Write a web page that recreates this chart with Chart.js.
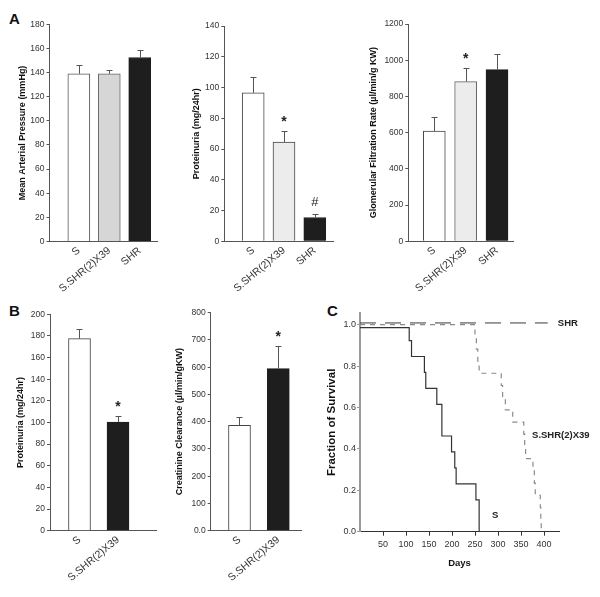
<!DOCTYPE html>
<html><head><meta charset="utf-8">
<script src="https://cdn.jsdelivr.net/npm/chart.js@4.4.1/dist/chart.umd.min.js"></script>
<style>
html,body{margin:0;padding:0;background:#fff;}
body{width:600px;height:597px;position:relative;overflow:hidden;font-family:"Liberation Sans",Arial,sans-serif;}
canvas{position:absolute;}
.lbl{position:absolute;font-weight:bold;font-size:15px;line-height:15px;color:#111;}
</style></head><body>
<div class="lbl" style="left:9px;top:11px">A</div>
<div class="lbl" style="left:9px;top:303px">B</div>
<div class="lbl" style="left:327px;top:303px">C</div>
<canvas id="b1"></canvas><canvas id="b2"></canvas><canvas id="c1"></canvas>
<canvas id="a1"></canvas><canvas id="a2"></canvas><canvas id="a3"></canvas>
<script>
// ---------- data ----------
const groupsA = ['S', 'S.SHR(2)X39', 'SHR'];
const mapMean = [139, 139, 152.5];
const mapErrTop = [146.5, 142, 158.5];
const mapTicks = [0, 20, 40, 60, 80, 100, 120, 140, 160, 180];

const protAMean = [96.5, 64.5, 15.5];
const protAErrTop = [107, 71.5, 17.5];
const protAMarks = ['', '*', '#'];
const protATicks = [0, 20, 40, 60, 80, 100, 120, 140];

const gfrMean = [609, 882, 948];
const gfrErrTop = [684, 955, 1032];
const gfrMarks = ['', '*', ''];
const gfrTicks = [0, 200, 400, 600, 800, 1000, 1200];

const groupsB = ['S', 'S.SHR(2)X39'];
const protBMean = [177.5, 100.5];
const protBErrTop = [186.5, 106];
const protBMarks = ['', '*'];
const protBTicks = [0, 20, 40, 60, 80, 100, 120, 140, 160, 180, 200];

const crclMean = [387, 595];
const crclErrTop = [416, 676];
const crclMarks = ['', '*'];
const crclTicks = [0, 100, 200, 300, 400, 500, 600, 700, 800];

const curveNames = ['SHR', 'S.SHR(2)X39', 'S'];
const shrDays = [0, 408];
const shrSurv = [1.008, 1.008];
const congDays = [0, 250, 253, 256, 259, 307, 310, 316, 332, 356, 358, 360, 376, 379, 381, 392, 393, 394];
const congSurv = [1, 0.941, 0.882, 0.824, 0.765, 0.706, 0.647, 0.588, 0.529, 0.471, 0.412, 0.353, 0.294, 0.235, 0.176, 0.118, 0.059, 0];
const sDays = [0, 107, 112, 140, 143, 167, 178, 199, 206, 209, 252, 259];
const sSurv = [0.985, 0.923, 0.846, 0.769, 0.692, 0.615, 0.462, 0.385, 0.308, 0.231, 0.154, 0];
const survXTicks = [50, 100, 150, 200, 250, 300, 350, 400];
const survYTicks = [0, 0.2, 0.4, 0.6, 0.8, 1.0];

// ---------- helpers ----------
const FONT = '"Liberation Sans", Arial, Helvetica, sans-serif';
const TXT = '#333';
const AXIS = '#555';

function place(id, box, area) {
  const c = document.getElementById(id);
  c.style.left = box[0] + 'px'; c.style.top = box[1] + 'px';
  c.width = box[2]; c.height = box[3];
  return {c, yW: area[0] - box[0], T: area[1] - box[1], R: box[0] + box[2] - area[2], B: box[1] + box[3] - area[3]};
}

const errorBars = {
  id: 'errorBars',
  afterDatasetsDraw(chart, args, opts) {
    const y = chart.scales.y, ctx = chart.ctx;
    const meta = chart.getDatasetMeta(0);
    ctx.save();
    ctx.strokeStyle = '#555'; ctx.lineWidth = 1;
    meta.data.forEach((bar, i) => {
      const x = Math.round(bar.x) + 0.5;
      const top = Math.round(y.getPixelForValue(opts.hi[i])) + 0.5;
      ctx.beginPath();
      ctx.moveTo(x, bar.y); ctx.lineTo(x, top);
      ctx.moveTo(x - 3, top); ctx.lineTo(x + 3, top);
      ctx.stroke();
      const m = opts.marks ? opts.marks[i] : '';
      if (m) {
        ctx.fillStyle = '#222';
        ctx.font = (m === '*' ? 'bold 14px ' : '13px ') + FONT;
        ctx.textAlign = 'center'; ctx.textBaseline = 'middle';
        ctx.fillText(m, bar.x, top - 12 + (m === '*' ? 3 : 0));
      }
    });
    ctx.restore();
  }
};

function barChart(id, box, area, cfg) {
  const g = place(id, box, area);
  const tfs = 9;
  new Chart(g.c, {
    type: 'bar',
    data: {datasets: [{
      data: cfg.groups.map((_, i) => ({x: i + 1, y: cfg.mean[i]})),
      backgroundColor: cfg.fill, borderColor: cfg.stroke, borderWidth: 1,
      barThickness: 22
    }]},
    options: {
      responsive: false, animation: false, devicePixelRatio: 1,
      layout: {padding: {left: 0, top: g.T, right: g.R, bottom: 0}},
      plugins: {legend: {display: false}, tooltip: {enabled: false},
        errorBars: {hi: cfg.err, marks: cfg.marks}},
      scales: {
        x: {type: 'linear', offset: false, min: cfg.xmin, max: cfg.xmax,
          afterBuildTicks: s => { s.ticks = cfg.groups.map((_, i) => ({value: i + 1})); },
          afterFit: s => { s.height = g.B; },
          grid: {display: true, drawOnChartArea: false, drawTicks: false, offset: false},
          border: {display: true, color: AXIS, width: 1},
          ticks: {autoSkip: false, minRotation: 40, maxRotation: 40, padding: 3,
            font: {family: FONT, size: 10.5}, color: TXT,
            callback: v => cfg.groups[Math.round(v) - 1] || ''}
        },
        y: {type: 'linear', min: 0, max: cfg.ticks[cfg.ticks.length - 1],
          afterBuildTicks: s => { s.ticks = cfg.ticks.map(v => ({value: v})); },
          afterFit: s => { s.width = g.yW; },
          grid: {drawOnChartArea: false, drawTicks: true, tickLength: 3, color: AXIS},
          border: {display: true, color: AXIS, width: 1},
          ticks: {padding: 2, font: {family: FONT, size: 8.5}, color: TXT,
            callback: cfg.fmt || (v => String(v))},
          title: {display: true, text: cfg.title, color: '#111',
            font: {family: FONT, size: tfs, weight: 'bold'},
            padding: {top: Math.max(0, cfg.titleX - box[0] - tfs * 0.6), bottom: 0}}
        }
      }
    },
    plugins: [errorBars]
  });
}

// ---------- Panel A ----------
barChart('a1', [0, 0, 170, 300], [49.5, 24.3, 157.3, 241.5], {
  groups: groupsA, mean: mapMean, err: mapErrTop, marks: null, ticks: mapTicks,
  xmin: 0.036, xmax: 3.577, titleX: 23, title: 'Mean Arterial Pressure (mmHg)',
  fill: ['#ffffff', '#d6d6d6', '#1e1e1e'], stroke: ['#555', '#666', '#1e1e1e']
});
barChart('a2', [172, 0, 170, 300], [224.3, 26, 333, 241.3], {
  groups: groupsA, mean: protAMean, err: protAErrTop, marks: protAMarks, ticks: protATicks,
  xmin: 0.062, xmax: 3.591, titleX: 196.7, title: 'Proteinuria (mg/24hr)',
  fill: ['#ffffff', '#ececec', '#1e1e1e'], stroke: ['#444', '#444', '#1e1e1e']
});
barChart('a3', [345, 0, 185, 300], [408.3, 24, 513, 241.3], {
  groups: groupsA, mean: gfrMean, err: gfrErrTop, marks: gfrMarks, ticks: gfrTicks,
  xmin: 0.171, xmax: 3.51, titleX: 373.3, title: 'Glomerular Filtration Rate (\u00b5l/min/g KW)',
  fill: ['#ffffff', '#ececec', '#1e1e1e'], stroke: ['#444', '#666', '#1e1e1e']
});

// ---------- Panel B ----------
barChart('b1', [0, 290, 170, 307], [50, 314.3, 156.7, 530.7], {
  groups: groupsB, mean: protBMean, err: protBErrTop, marks: protBMarks, ticks: protBTicks,
  xmin: 0.234, xmax: 3.005, titleX: 21, title: 'Proteinuria (mg/24hr)',
  fill: ['#ffffff', '#1e1e1e'], stroke: ['#444', '#1e1e1e']
});
barChart('b2', [172, 290, 138, 307], [210.7, 312.7, 301.7, 530.7], {
  groups: groupsB, mean: crclMean, err: crclErrTop, marks: crclMarks, ticks: crclTicks,
  xmin: 0.258, xmax: 2.603, titleX: 180, title: 'Creatinine Clearance (\u00b5l/min/gKW)',
  fill: ['#ffffff', '#1e1e1e'], stroke: ['#444', '#1e1e1e'],
  fmt: v => v === 0 ? '0.0' : String(v)
});

// ---------- Panel C ----------
const curveLabels = {
  id: 'curveLabels',
  afterDraw(chart, args, opts) {
    const {ctx, scales: {x, y}} = chart;
    ctx.save();
    ctx.fillStyle = '#222';
    ctx.font = 'bold 9.5px ' + FONT;
    ctx.textAlign = 'left'; ctx.textBaseline = 'middle';
    opts.items.forEach(it => ctx.fillText(it.text, x.getPixelForValue(it.x), y.getPixelForValue(it.y)));
    ctx.restore();
  }
};
(function () {
  const box = [315, 290, 285, 307], area = [360, 313, 559, 531.7];
  const g = place('c1', box, area);
  const pts = (d, s) => d.map((v, i) => ({x: v, y: s[i]}));
  const tfs = 11.5;
  new Chart(g.c, {
    type: 'line',
    data: {datasets: [
      {label: curveNames[1], data: pts(congDays, congSurv), borderColor: '#8a8a8a', borderWidth: 1.2,
        borderDash: [5, 5], stepped: true, pointRadius: 0, fill: false},
      {label: curveNames[0], data: pts(shrDays, shrSurv), borderColor: '#3a3a3a', borderWidth: 1,
        borderDash: [16, 9], stepped: true, pointRadius: 0, fill: false},
      {label: curveNames[2], data: pts(sDays, sSurv), borderColor: '#333', borderWidth: 1.2,
        stepped: true, pointRadius: 0, fill: false}
    ]},
    options: {
      responsive: false, animation: false, devicePixelRatio: 1,
      layout: {padding: {left: 0, top: g.T, right: g.R, bottom: 0}},
      plugins: {legend: {display: false}, tooltip: {enabled: false},
        curveLabels: {items: [
          {text: curveNames[0], x: 430, y: 1.008},
          {text: curveNames[1], x: 374, y: 0.464},
          {text: curveNames[2], x: 287, y: 0.08}
        ]}},
      scales: {
        x: {type: 'linear', min: 0, max: 432.6,
          afterBuildTicks: s => { s.ticks = survXTicks.map(v => ({value: v})); },
          afterFit: s => { s.height = g.B; },
          grid: {drawOnChartArea: false, drawTicks: true, tickLength: 4, color: '#333'},
          border: {display: true, color: '#333', width: 1},
          ticks: {autoSkip: false, maxRotation: 0, padding: 3, font: {family: FONT, size: 9}, color: TXT},
          title: {display: true, text: 'Days', color: '#111', font: {family: FONT, size: 9.5, weight: 'bold'},
            padding: {top: 0, bottom: 597 - 563 - 9.5 * 0.6 - (597 - box[1] - box[3])}}
        },
        y: {type: 'linear', min: 0, max: 1.056,
          afterBuildTicks: s => { s.ticks = survYTicks.map(v => ({value: v})); },
          afterFit: s => { s.width = g.yW; },
          grid: {drawOnChartArea: false, drawTicks: true, tickLength: 3, color: '#999'},
          border: {display: true, color: '#999', width: 2},
          ticks: {padding: 1, font: {family: FONT, size: 9}, color: TXT, callback: v => v.toFixed(1)},
          title: {display: true, text: 'Fraction of Survival', color: '#111',
            font: {family: FONT, size: tfs, weight: 'bold'},
            padding: {top: Math.max(0, 331.7 - box[0] - tfs * 0.6), bottom: 0}}
        }
      }
    },
    plugins: [curveLabels]
  });
})();
</script>
</body></html>
